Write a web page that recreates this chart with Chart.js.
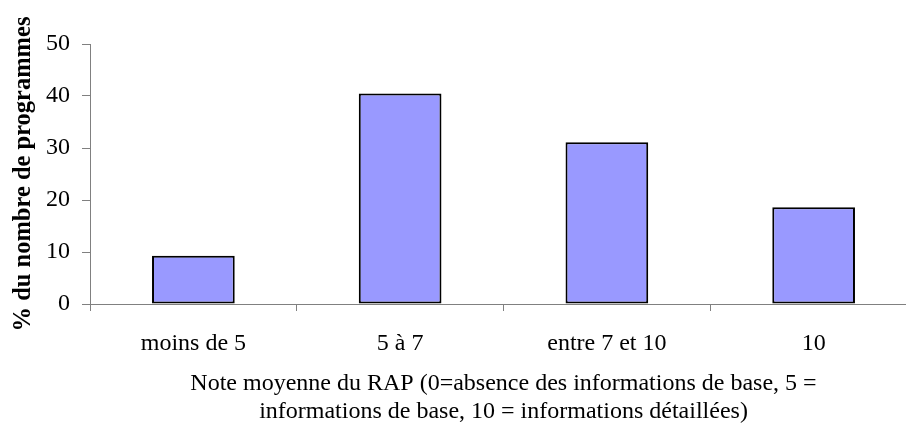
<!DOCTYPE html>
<html lang="fr">
<head>
<meta charset="utf-8">
<script src="https://cdn.jsdelivr.net/npm/chart.js@4/dist/chart.umd.min.js"></script>
<style>
    html, body { margin: 0; padding: 0; background: #fff; overflow: hidden; }
    #wrap { position: relative; width: 917px; height: 427px; }
</style>
</head>
<body>
<div id="wrap"><canvas id="chart"></canvas></div>
<script>
// categories and values
const categories = ['moins de 5', '5 à 7', 'entre 7 et 10', '10'];
const shares = [9.3, 40.5, 31.1, 18.6];
const yTicks = [0, 10, 20, 30, 40, 50];
const yTitle = '% du nombre de programmes';
const xTitle = [
    'Note moyenne du RAP (0=absence des informations de base, 5 =',
    'informations de base, 10 = informations détaillées)'
];

const SERIF = '"Liberation Serif", "Times New Roman", serif';
const AXIS_GREY = '#808080';

new Chart(document.getElementById('chart'), {
    type: 'bar',
    data: {
        labels: categories,
        datasets: [{
            data: shares,
            backgroundColor: '#9999FF',
            borderColor: '#000000',
            borderWidth: 2,
            borderSkipped: false,
            barPercentage: 0.4,
            categoryPercentage: 1
        }]
    },
    options: {
        responsive: true,
        maintainAspectRatio: false,
        animation: false,
        layout: { padding: { top: 44, left: 0, right: 0, bottom: 0 } },
        plugins: {
            legend: { display: false },
            tooltip: { enabled: false }
        },
        scales: {
            x: {
                grid: {
                    offset: true,
                    drawOnChartArea: false,
                    drawTicks: true,
                    tickLength: 7,
                    color: AXIS_GREY
                },
                border: { color: AXIS_GREY, width: 1 },
                ticks: {
                    color: '#000',
                    padding: 18,
                    maxRotation: 0,
                    autoSkip: false,
                    font: { family: SERIF, size: 24 }
                },
                title: {
                    display: true,
                    text: xTitle,
                    color: '#000',
                    font: { family: SERIF, size: 24, lineHeight: 1.18 },
                    padding: { top: 0, bottom: 1 }
                },
                afterFit(scale) { scale.height = 123; }
            },
            y: {
                min: 0,
                max: 50,
                afterBuildTicks(scale) { scale.ticks = yTicks.map(v => ({ value: v })); },
                grid: {
                    drawOnChartArea: false,
                    drawTicks: true,
                    tickLength: 8,
                    color: AXIS_GREY
                },
                border: { color: AXIS_GREY, width: 1 },
                ticks: {
                    color: '#000',
                    padding: 12,
                    font: { family: SERIF, size: 24 }
                },
                title: {
                    display: true,
                    text: yTitle,
                    color: '#000',
                    font: { family: SERIF, size: 24.5, weight: 'bold' },
                    padding: { top: 9, bottom: 0 }
                },
                afterFit(scale) { scale.width = 90; }
            }
        }
    }
});
</script>
</body>
</html>
